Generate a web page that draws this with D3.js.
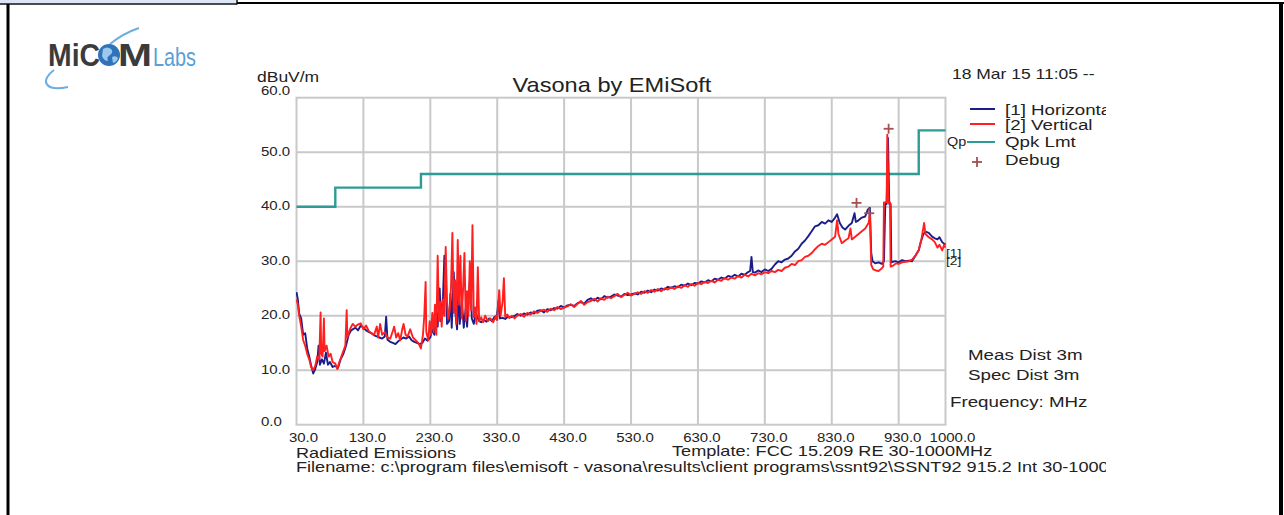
<!DOCTYPE html>
<html><head><meta charset="utf-8">
<script src="https://cdn.jsdelivr.net/npm/d3@7/dist/d3.min.js"></script>
<style>
body{margin:0;background:#fff}
svg{display:block}
text{font-family:"Liberation Sans",Arial,Helvetica,sans-serif}
</style>
</head><body>
<svg id="c" width="1284" height="515"></svg>
<script>
// ---------------- data ----------------
const xTicks = [30,130,230,330,430,530,630,730,830,930,1000];
const yTicks = [0,10,20,30,40,50,60];
const limitSteps = [[30,40],[88,43.5],[216,46],[960,54],[1000,54]];
const debugPoints = [[867,40.7],[886,38.8],[915,54.3]];
const legendLabels = ["[1] Horizontal","[2] Vertical","Qpk Lmt","Debug"];

const horizontal = [
[30,24.3],[32,23.0],[34,20.4],[37,19.5],[40,16.5],[43,16.8],[46,14.0],[49,12.5],[52,10.8],[55,9.4],
[58,10.2],[61,11.5],[63,14.5],[65,11.0],[68,12.0],[71,11.2],[74,13.2],[77,11.0],[80,11.5],[84,10.6],
[88,10.8],[92,10.4],[96,12.0],[100,13.0],[104,14.5],[106,15.5],[108,16.5],[111,17.2],[114,17.5],[118,17.8],
[122,17.3],[126,18.2],[130,17.8],[134,17.3],[138,17.0],[142,16.8],[146,16.4],[150,16.2],[154,16.0],[158,15.8],
[162,16.2],[164,19.8],[166,15.6],[170,15.2],[174,15.0],[178,14.8],[182,15.3],[186,15.7],[190,16.0],[194,15.8],
[198,16.2],[202,15.5],[206,15.2],[210,15.0],[214,14.8],[218,15.0],[222,15.8],[226,15.4],[230,16.0],[233,17.5],
[236,16.5],[239,20.5],[241,18.0],[244,25.0],[246,19.0],[249,23.5],[251,31.0],[253,27.5],[255,18.5],[258,19.0],
[260,24.0],[262,17.8],[265,28.0],[267,21.0],[270,17.5],[272,25.0],[274,18.5],[277,23.0],[280,17.8],[283,21.5],
[285,18.0],[288,24.5],[290,28.0],[292,19.5],[295,18.5],[298,20.5],[300,19.8],[303,19.0],[306,18.8],[310,19.2],
[314,18.9],[318,19.5],[322,19.0],[326,19.8],[329,19.3],[332,22.8],[334,19.5],[338,19.6],[342,19.4],[346,19.8],
[350,19.7],[355,19.9],[360,20.3],[365,20.0],[370,20.4],[375,20.2],[380,20.6],[385,20.4],[390,20.9],[395,21.0],
[400,20.6],[405,21.2],[410,21.0],[415,21.4],[420,21.3],[425,21.8],[430,21.5],[435,21.9],[440,22.0],[445,21.8],
[450,22.3],[455,22.5],[460,22.2],[465,22.9],[470,23.2],[475,22.8],[480,23.3],[485,23.0],[490,23.6],[495,23.3],
[500,23.5],[505,23.9],[510,23.7],[515,23.5],[520,24.0],[525,23.8],[530,23.9],[535,24.1],[540,23.9],[545,24.4],
[550,24.2],[555,24.6],[560,24.3],[565,24.8],[570,24.6],[575,25.0],[580,24.8],[585,25.3],[590,25.1],[595,25.4],
[600,25.2],[605,25.7],[610,25.5],[615,25.9],[620,25.6],[625,26.0],[630,25.9],[635,26.3],[640,26.1],[645,26.5],
[650,26.3],[655,26.8],[660,26.6],[665,27.0],[670,26.8],[675,27.3],[680,27.1],[685,27.5],[690,27.2],[695,27.7],
[700,27.5],[705,28.0],[708,28.2],[710,30.8],[712,28.0],[715,27.9],[720,28.3],[725,28.0],[730,28.5],[735,28.2],
[740,28.6],[745,29.4],[750,30.0],[755,29.8],[760,30.3],[765,30.5],[770,31.0],[775,31.8],[780,32.3],[785,33.2],
[790,33.8],[795,34.6],[800,35.5],[805,36.4],[810,36.6],[815,37.2],[820,36.9],[825,37.5],[830,37.2],[835,38.0],
[838,38.6],[842,37.0],[846,36.2],[850,35.8],[855,36.5],[860,37.0],[864,38.8],[866,37.2],[870,37.5],[875,38.0],
[880,38.2],[884,39.5],[887,39.8],[889,31.5],[891,30.0],[895,29.6],[900,29.8],[905,29.5],[908,30.0],[910,40.5],
[912,40.5],[914,52.6],[916,40.5],[918,40.5],[919,29.8],[925,30.0],[930,29.8],[935,30.2],[940,30.0],[945,30.1],
[950,30.0],[955,31.0],[960,32.0],[963,33.5],[967,35.0],[971,35.4],[975,35.2],[980,34.5],[984,34.2],[988,34.0],
[991,34.4],[995,33.5],[1000,33.0]
];

const vertical = [
[30,23.0],[32,22.0],[34,20.0],[37,18.0],[40,15.5],[43,14.5],[46,13.0],[49,12.0],[52,10.5],[55,10.0],
[58,10.8],[61,12.5],[64,12.0],[66,20.6],[67,13.0],[69,12.5],[71,19.5],[72,13.5],[75,14.5],[78,12.5],
[81,13.0],[84,11.5],[88,11.2],[91,10.2],[94,11.5],[97,12.5],[100,13.5],[103,14.5],[105,21.0],[106,16.0],
[108,16.8],[111,17.8],[114,18.5],[118,18.0],[122,18.4],[126,18.6],[130,17.5],[134,18.2],[138,17.2],[142,16.8],
[146,16.5],[150,18.0],[152,16.0],[155,18.5],[158,16.5],[162,17.0],[166,16.0],[170,15.8],[174,17.2],[176,18.0],
[179,16.0],[182,16.8],[185,15.5],[188,17.5],[190,18.5],[193,16.5],[196,16.2],[200,17.5],[204,16.0],[208,15.5],
[212,15.0],[216,14.0],[219,16.5],[221,20.0],[223,26.2],[224,17.0],[227,15.5],[229,19.0],[231,16.5],[233,20.5],
[235,17.0],[237,22.0],[239,16.5],[241,31.0],[243,19.0],[245,22.5],[247,18.0],[249,23.0],[251,20.0],[253,32.6],
[255,22.5],[257,19.5],[259,21.0],[261,25.5],[263,35.2],[265,20.5],[267,26.5],[269,18.5],[271,33.9],[273,22.0],
[275,31.0],[277,19.5],[279,25.0],[281,31.5],[283,19.0],[285,24.5],[287,20.0],[289,30.0],[291,21.0],[293,36.6],
[295,19.7],[297,21.5],[299,18.5],[301,28.9],[303,19.0],[306,19.7],[309,18.8],[312,20.0],[316,19.0],[320,19.5],
[324,18.8],[328,20.0],[330,19.2],[333,24.7],[335,20.0],[338,22.5],[340,26.9],[342,19.7],[345,20.2],[348,19.6],
[352,20.0],[356,19.5],[360,20.0],[365,20.3],[370,19.8],[375,20.5],[380,20.2],[385,20.8],[390,20.5],[395,20.9],
[400,21.1],[405,20.7],[410,21.3],[415,21.0],[420,21.6],[425,21.2],[430,21.5],[435,21.7],[440,22.1],[445,21.6],
[450,22.2],[455,22.7],[460,22.0],[465,22.5],[470,22.7],[475,23.1],[480,22.6],[485,23.2],[490,22.9],[495,23.5],
[500,23.2],[505,23.6],[510,24.0],[515,23.4],[520,23.8],[525,24.2],[530,23.7],[535,24.0],[540,24.3],[545,24.0],
[550,24.5],[555,24.2],[560,24.7],[565,24.4],[570,24.9],[575,24.5],[580,25.0],[585,24.8],[590,25.2],[595,24.9],
[600,25.4],[605,25.1],[610,25.6],[615,25.3],[620,25.8],[625,25.5],[630,26.0],[635,25.8],[640,26.2],[645,26.0],
[650,26.4],[655,26.1],[660,26.6],[665,26.4],[670,26.9],[675,26.6],[680,27.0],[685,26.8],[690,27.3],[695,27.0],
[700,27.5],[705,27.2],[710,27.7],[715,27.4],[720,27.8],[725,27.6],[730,28.0],[735,27.8],[740,28.2],[745,28.0],
[750,28.4],[755,28.2],[760,28.8],[765,29.0],[770,29.5],[775,29.3],[780,30.0],[785,30.2],[790,30.8],[795,31.0],
[800,31.5],[805,32.2],[810,32.8],[815,33.2],[820,33.0],[825,33.5],[830,34.0],[835,34.5],[838,37.5],[840,35.0],
[845,33.3],[850,33.8],[855,34.2],[858,36.0],[860,34.0],[865,34.5],[870,35.0],[875,35.5],[880,36.0],[885,37.0],
[887,38.5],[889,29.3],[892,28.5],[896,28.3],[900,28.2],[904,28.6],[907,29.0],[908,40.8],[912,40.8],[913,53.2],
[915,40.8],[917,40.8],[918,29.0],[922,29.2],[926,29.6],[930,29.5],[935,29.8],[940,29.9],[945,30.0],[950,30.3],
[955,31.0],[960,32.0],[964,34.0],[968,37.0],[970,35.0],[975,34.4],[980,34.0],[984,33.5],[988,32.5],[991,33.0],
[995,32.0],[998,33.0],[1000,32.5]
];

// ---------------- drawing ----------------
const svg = d3.select("#c");
const SX = 1.25;
const C = {grid:"#c9c9c9", blue:"#1c1c8a", red:"#ff1f1f", teal:"#2e9c95", debug:"#a65050", text:"#222"};

const x = d3.scaleLinear().domain([30,1000]).range([296.5,945.5]);
const y = d3.scaleLinear().domain([0,60]).range([424.7,97.7]);

svg.append("defs").html(
  '<clipPath id="plotClip"><rect x="296" y="90" width="651" height="336"/></clipPath>' +
  '<clipPath id="textClip"><rect x="0" y="0" width="1106" height="515"/></clipPath>');

function txt(px, py, s, size, opt) {
  opt = opt || {};
  return svg.append("text")
    .attr("transform", `translate(${px},${py}) scale(${opt.sx || SX},1)`)
    .attr("font-size", size)
    .attr("fill", opt.fill || C.text)
    .attr("text-anchor", opt.anchor || "start")
    .attr("font-weight", opt.weight || "normal")
    .text(s);
}

// outer frame
svg.append("rect").attr("x",0).attr("y",0).attr("width",236).attr("height",3.5).attr("fill","#dbe5f6");
svg.append("line").attr("x1",0).attr("x2",237).attr("y1",4).attr("y2",4).attr("stroke","#111").attr("stroke-width",1.5);
svg.append("line").attr("x1",237).attr("x2",237).attr("y1",0).attr("y2",4.5).attr("stroke","#111").attr("stroke-width",1.5);
svg.append("line").attr("x1",237).attr("x2",1284).attr("y1",3).attr("y2",3).attr("stroke","#000").attr("stroke-width",2.2);
svg.append("line").attr("x1",1281).attr("x2",1281).attr("y1",2).attr("y2",515).attr("stroke","#000").attr("stroke-width",4);
svg.append("line").attr("x1",8).attr("x2",8).attr("y1",4).attr("y2",515).attr("stroke","#000").attr("stroke-width",3);

// logo
const logo = svg.append("g");
logo.append("path").attr("d","M54,70 C40,80 44,92 68,87").attr("fill","none").attr("stroke","#6aaee0").attr("stroke-width",2);
logo.append("path").attr("d","M110,44 C120,36 130,31 139,28").attr("fill","none").attr("stroke","#6aaee0").attr("stroke-width",2);
logo.append("text").attr("x",48).attr("y",66).attr("font-size",31).attr("font-weight","bold").attr("fill","#3b3b3b")
  .attr("textLength",52).attr("lengthAdjust","spacingAndGlyphs").text("MiC");
logo.append("circle").attr("cx",109).attr("cy",55).attr("r",11).attr("fill","#2f74bb");
logo.append("path").attr("d","M103,49 q4,-3 8,0 q3,3 -1,6 q-4,2 -2,6 q-4,0 -6,-5 z").attr("fill","#9cc8ec");
logo.append("path").attr("d","M112,57 q4,-2 6,1 q-1,4 -5,5 z").attr("fill","#9cc8ec");
logo.append("text").attr("x",118).attr("y",66).attr("font-size",31).attr("font-weight","bold").attr("fill","#3b3b3b")
  .attr("textLength",34).attr("lengthAdjust","spacingAndGlyphs").text("M");
logo.append("text").attr("x",153).attr("y",66).attr("font-size",25).attr("fill","#5a9fd6")
  .attr("textLength",43).attr("lengthAdjust","spacingAndGlyphs").text("Labs");

// grid
const grid = svg.append("g");
grid.selectAll("line.v").data(xTicks.filter(d => d > 30 && d < 1000)).join("line")
  .attr("x1", d => x(d)).attr("x2", d => x(d)).attr("y1", y(60)).attr("y2", y(0))
  .attr("stroke", C.grid).attr("stroke-width", 2);
grid.selectAll("line.h").data(yTicks.filter(d => d > 0 && d < 60)).join("line")
  .attr("x1", x(30)).attr("x2", x(1000)).attr("y1", d => y(d)).attr("y2", d => y(d))
  .attr("stroke", C.grid).attr("stroke-width", 2);
grid.append("rect").attr("x", x(30)).attr("y", y(60)).attr("width", x(1000)-x(30)).attr("height", y(0)-y(60))
  .attr("fill","none").attr("stroke", C.grid).attr("stroke-width", 2);

// tick labels
yTicks.forEach(v => {
  let by = y(v) + 3.5;
  if (v === 60) by = y(v) - 2.5;
  if (v === 0) by = y(v) + 1;
  txt(261, by, v.toFixed(1), 12);
});
xTicks.forEach(v => {
  let cx = x(v) + 4;
  if (v === 30 || v === 1000) cx = x(v) + 7;
  txt(cx, 441.5, v.toFixed(1), 12, {anchor:"middle"});
});

// traces
const plot = svg.append("g").attr("clip-path","url(#plotClip)");
const line = d3.line().x(d => x(d[0])).y(d => y(d[1]));
const stepLine = d3.line().x(d => x(d[0])).y(d => y(d[1])).curve(d3.curveStepAfter);

plot.append("path").datum(limitSteps).attr("d", stepLine).attr("fill","none")
  .attr("stroke", C.teal).attr("stroke-width", 2.4);
plot.append("path").datum(horizontal).attr("d", line).attr("fill","none")
  .attr("stroke", C.blue).attr("stroke-width", 1.9).attr("stroke-linejoin","round");
plot.append("path").datum(vertical).attr("d", line).attr("fill","none")
  .attr("stroke", C.red).attr("stroke-width", 1.9).attr("stroke-linejoin","round");

// debug markers
const dbg = svg.append("g").attr("stroke", C.debug).attr("stroke-width", 1.8);
debugPoints.forEach(p => {
  const cx = x(p[0]), cy = y(p[1]);
  dbg.append("line").attr("x1", cx-5).attr("x2", cx+5).attr("y1", cy).attr("y2", cy);
  dbg.append("line").attr("x1", cx).attr("x2", cx).attr("y1", cy-5).attr("y2", cy+5);
});

// titles & annotations
txt(612, 92, "Vasona by EMiSoft", 20, {anchor:"middle", sx:1.18});
txt(257, 82, "dBuV/m", 14, {});
const tg = svg.append("g").attr("clip-path","url(#textClip)");
function ctxt(px, py, s, size, opt) {
  opt = opt || {};
  return tg.append("text")
    .attr("transform", `translate(${px},${py}) scale(${opt.sx || SX},1)`)
    .attr("font-size", size).attr("fill", opt.fill || C.text)
    .attr("text-anchor", opt.anchor || "start").text(s);
}
ctxt(952, 79, "18 Mar 15 11:05 --", 14);

// legend
const legY = [110, 125, 142, 160];
svg.append("line").attr("x1",970).attr("x2",995).attr("y1",109).attr("y2",109).attr("stroke",C.blue).attr("stroke-width",2);
svg.append("line").attr("x1",970).attr("x2",995).attr("y1",124).attr("y2",124).attr("stroke",C.red).attr("stroke-width",2);
svg.append("line").attr("x1",967).attr("x2",995).attr("y1",142).attr("y2",142).attr("stroke",C.teal).attr("stroke-width",2);
svg.append("line").attr("x1",972).attr("x2",982).attr("y1",162).attr("y2",162).attr("stroke",C.debug).attr("stroke-width",1.8);
svg.append("line").attr("x1",977).attr("x2",977).attr("y1",157).attr("y2",167).attr("stroke",C.debug).attr("stroke-width",1.8);
legendLabels.forEach((s, i) => ctxt(1005, legY[i] + 4.5, s, 15));
txt(947, 146, "Qp", 12, {sx:1.2});
txt(946, 257, "[1]", 11, {});
txt(946, 265, "[2]", 11, {});

// right side notes
txt(968, 360, "Meas Dist 3m", 15);
txt(968, 380, "Spec Dist 3m", 15);
txt(950, 407, "Frequency: MHz", 15);

// footer
txt(296, 458, "Radiated Emissions", 14.5);
txt(672, 456, "Template: FCC 15.209 RE 30-1000MHz", 14.5);
ctxt(296, 472, "Filename: c:\\program files\\emisoft - vasona\\results\\client programs\\ssnt92\\SSNT92 915.2 Int 30-1000MHz", 14.5);
</script>
</body></html>
